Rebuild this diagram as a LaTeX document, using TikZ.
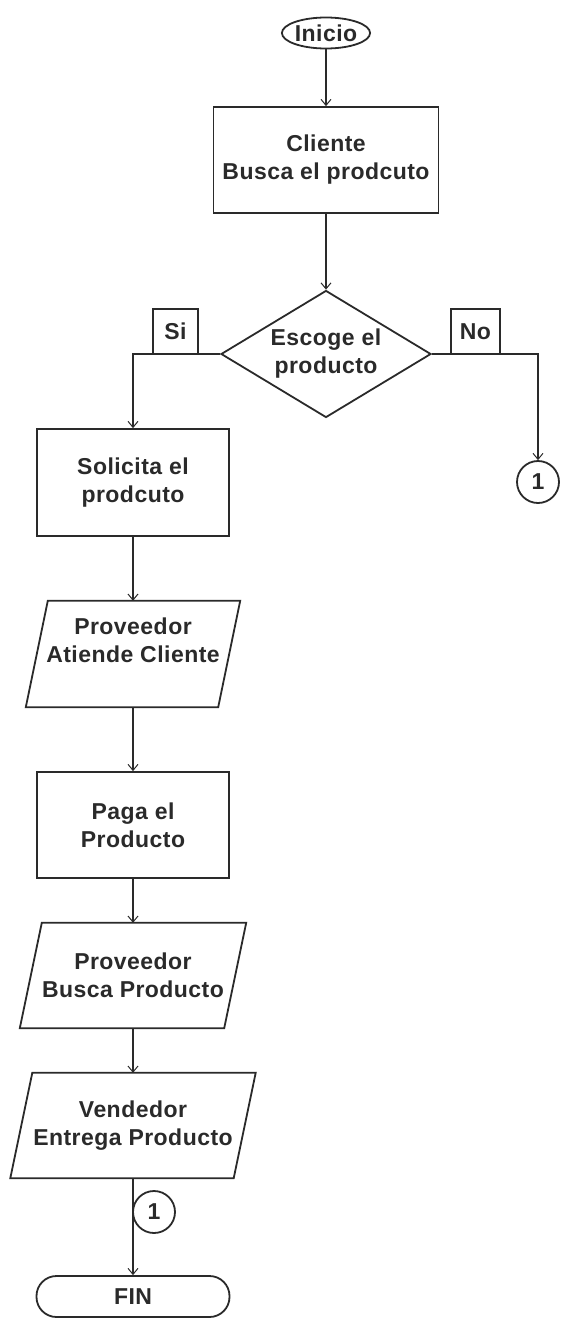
\documentclass[tikz,border=0pt]{standalone}
\usepackage{fontspec}
\setmainfont{Liberation Sans}[LetterSpace=2]
\usetikzlibrary{arrows.meta,shapes.geometric}
\definecolor{ink}{HTML}{2A2A2A}
\begin{document}
\begin{tikzpicture}[x=1pt,y=-1pt,
  every node/.style={font=\fontsize{23}{28}\selectfont\bfseries, text=ink, align=center, inner sep=0pt},
  outline/.style={draw=ink, line width=1.8pt},
  procbox/.style={outline, rectangle},
  flow/.style={draw=ink, line width=1.8pt, -{Straight Barb[length=6pt,width=10pt,line width=1pt]}},
  slanted/.style={draw=ink, line width=1.8pt, line join=miter}
]
\useasboundingbox (0,0) rectangle (561,1318);

% start and first process
\node[outline, ellipse, minimum width=87pt, minimum height=31pt] (ini) at (326,33) {Inicio};
\node[procbox, minimum width=225pt, minimum height=106pt] (cli) at (326,160) {Cliente\\Busca el prodcuto};

% decision
\node[outline, diamond, aspect=1.65, minimum width=210pt, minimum height=127pt] (dia) at (326,354) {Escoge el\\producto};

% left column
\node[procbox, minimum width=192pt, minimum height=107pt] (sol) at (133,482.5) {Solicita el\\prodcuto};
\node[minimum width=192pt, minimum height=106pt] (att) at (133,654) {};
\node (attlbl) at (133,640) {Proveedor\\Atiende Cliente};
\node[procbox, minimum width=192pt, minimum height=106pt] (pag) at (133,825) {Paga el\\Producto};
\node[minimum width=204pt, minimum height=105pt] (bus) at (133,975.5) {Proveedor\\Busca Producto};
\node[minimum width=223pt, minimum height=105pt] (ven) at (133,1125.5) {Vendedor\\Entrega Producto};
\node[outline, rounded corners=20pt, minimum width=193pt, minimum height=41pt] (fin) at (133,1296.5) {FIN};

% parallelogram outlines
\foreach \p in {att,bus,ven}{
  \draw[slanted] ([xshift=11pt]\p.north west) -- ([xshift=11pt]\p.north east)
    -- ([xshift=-11pt]\p.south east) -- ([xshift=-11pt]\p.south west) -- cycle;
}

% connectors
\draw[flow] (ini.south) -- (cli.north);
\draw[flow] (cli.south) -- (dia.north);
\node[outline, circle, minimum size=42pt] (c1) at (538,482) {1};
\draw[flow] (dia.west) -| (sol.north);
\draw[flow] (dia.east) -| (c1.north);
\draw[flow] (sol.south) -- (att.north);
\draw[flow] (att.south) -- (pag.north);
\draw[flow] (pag.south) -- (bus.north);
\draw[flow] (bus.south) -- (ven.north);
\draw[flow] (ven.south) -- (fin.north);
\node[outline, circle, minimum size=42pt] (c2) at (154,1212) {1};

% branch labels
\node[procbox, minimum width=45pt, minimum height=45pt] (si) at (175.5,331.5) {Si};
\node[procbox, minimum width=49pt, minimum height=45pt] (no) at (475.5,331.5) {No};
\end{tikzpicture}
\end{document}
